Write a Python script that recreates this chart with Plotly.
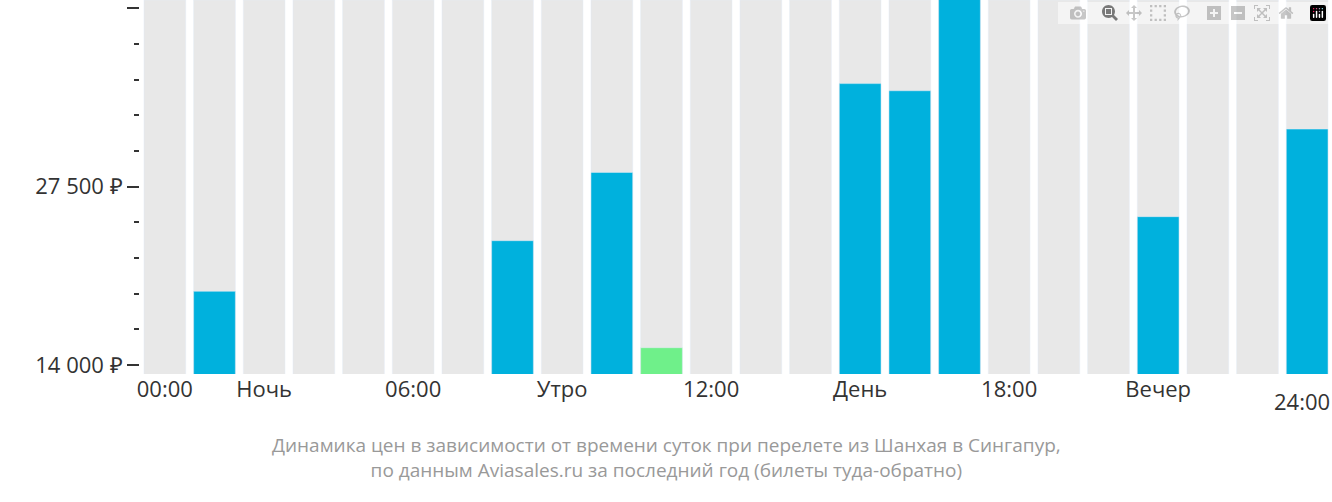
import plotly.graph_objects as go

hours = list(range(24))
prices = [None, 19570, None, None, None, None, None, 23400, None, 28570, 15300, None,
          None, None, 35290, 34750, 41700, None, None, None, 25220, None, None, 31850]
cheapest_hour = 10
tick_pos = [0, 2, 5, 8, 11, 14, 17, 20, 23]
tick_text = ["00:00", "Ночь", "06:00", "Утро", "12:00", "День", "18:00", "Вечер", "24:00"]
y_major = [14000, 27500, 41000]
y_major_text = ["14 000 ₽", "27 500 ₽", "41 000 ₽"]

ymin, ymax = 13310, 41620
colors = ["#6ff08a" if h == cheapest_hour else "#00b1dd" for h in hours]

fig = go.Figure()
fig.add_bar(x=hours, y=[ymax] * 24, marker_color="#e8e8e8", width=0.84, hoverinfo="skip")
fig.add_bar(x=hours, y=prices, marker_color=colors, width=0.84)
fig.update_layout(
    width=1332, height=502, barmode="overlay", showlegend=False,
    plot_bgcolor="white", paper_bgcolor="white",
    margin=dict(l=140, r=0, t=0, b=128),
    font=dict(family="Open Sans", size=22, color="#333"),
    xaxis=dict(range=[-0.5, 23.5], tickvals=tick_pos[:-1], ticktext=tick_text[:-1],
               showgrid=False, zeroline=False, ticks="", tickfont=dict(size=22)),
    yaxis=dict(range=[ymin, ymax], tickvals=y_major, ticktext=y_major_text,
               showgrid=False, zeroline=False, ticks="outside", ticklen=12,
               tickcolor="#333", tickwidth=2,
               minor=dict(dtick=2700, tick0=14000, ticks="outside", ticklen=5,
                          tickcolor="#333", tickwidth=2, showgrid=False)),
    annotations=[
        dict(text=tick_text[-1], xref="paper", yref="paper", x=1.0, xanchor="right",
             y=-0.027, yanchor="top", showarrow=False, font=dict(size=22, color="#333")),
        dict(text="Динамика цен в зависимости от времени суток при перелете из Шанхая в Сингапур,<br>по данным Aviasales.ru за последний год (билеты туда-обратно)",
             xref="paper", yref="paper", x=0.442, y=-0.15, yanchor="top",
             showarrow=False, font=dict(size=19, color="#999"), align="center")],
)
fig.write_html("out.html", post_script="document.body.style.margin='0';document.body.style.overflow='hidden';")
